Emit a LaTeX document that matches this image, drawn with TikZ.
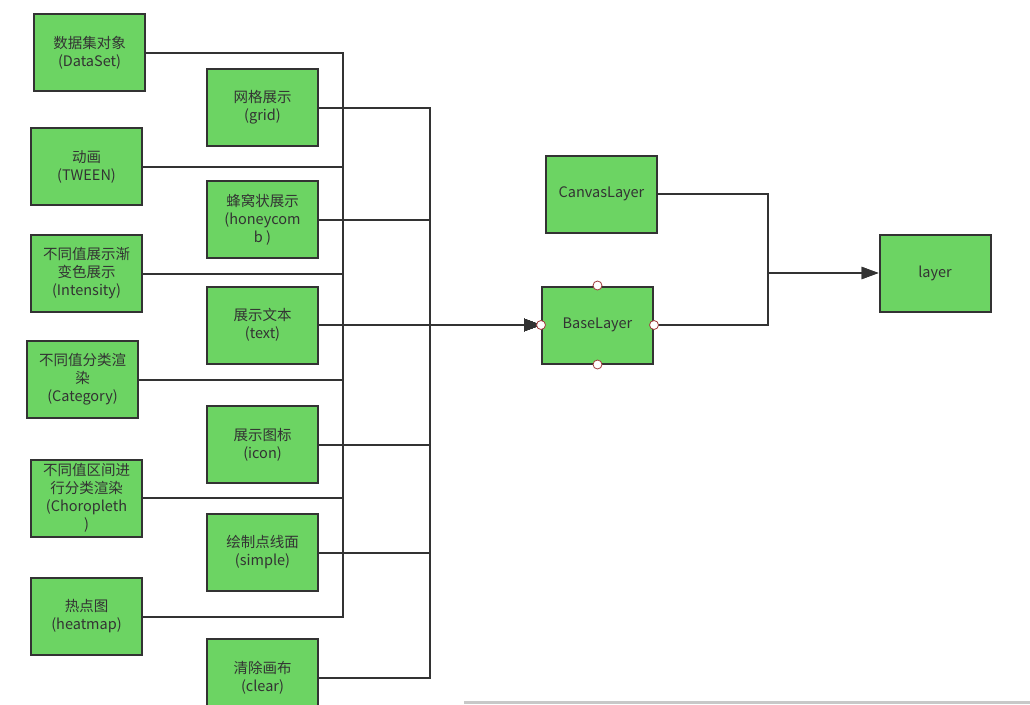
\documentclass[tikz,border=0pt]{standalone}
\usepackage{fontspec}
\setmainfont{Noto Sans CJK SC}
\usetikzlibrary{arrows.meta}
\definecolor{boxgreen}{RGB}{108,212,99}
\definecolor{edgec}{RGB}{51,51,51}
\definecolor{portred}{RGB}{160,60,60}
\definecolor{barg}{RGB}{200,200,200}
\begin{document}
\begin{tikzpicture}[x=1pt,y=-1pt,
  box/.style={draw=edgec, line width=2pt, fill=boxgreen, minimum width=111pt, minimum height=77pt,
    align=center, font=\fontsize{14.5}{18}\selectfont, text=edgec, inner sep=0pt},
  conn/.style={draw=edgec, line width=2pt},
  arr/.style={conn, -{Triangle[length=17pt,width=12pt]}},
  port/.style={circle, draw=portred, fill=white, line width=0.8pt, minimum size=9pt, inner sep=0pt}]
\useasboundingbox (0,0) rectangle (1030,704);
\clip (0,0) rectangle (1030,704);
\fill[white] (0,0) rectangle (1030,704);
% left column
\node[box] (ds) at (89.5,52.5) {数据集对象\\(DataSet)};
\node[box] (tw) at (86.5,166.5) {动画\\(TWEEN)};
\node[box] (in) at (86.5,273.5) {不同值展示渐\\变色展示\\(Intensity)};
\node[box] (ca) at (82.5,379.5) {不同值分类渲\\染\\(Category)};
\node[box] (ch) at (86.5,498) {不同值区间进\\行分类渲染\\(Choropleth\\)};
\node[box] (hm) at (86.5,616.5) {热点图\\(heatmap)};
% middle column
\node[box] (gr) at (262.5,107.5) {网格展示\\(grid)};
\node[box] (hc) at (262.5,219.5) {蜂窝状展示\\(honeycom\\b )};
\node[box] (tx) at (262.5,325) {展示文本\\(text)};
\node[box] (ic) at (262.5,444.5) {展示图标\\(icon)};
\node[box] (si) at (262.5,552.5) {绘制点线面\\(simple)};
\node[box] (cl) at (262.5,677.5) {清除画布\\(clear)};
% right
\node[box] (cv) at (601.5,194) {CanvasLayer};
\node[box] (bl) at (597.5,325) {BaseLayer};
\node[box] (ly) at (935,273) {layer};
% buses
\coordinate (bL) at (343,325);
\coordinate (bR) at (430,325);
\coordinate (bO) at (768,273);
\foreach \n in {ds,tw,in,ca,ch,hm} \draw[arr] (\n.east) -| (bL) -- (bl.west);
\foreach \n in {gr,hc,tx,ic,si,cl} \draw[arr] (\n.east) -| (bR) -- (bl.west);
\draw[arr] (cv.east) -| (bO) -- (ly.west);
\draw[arr] (bl.east) -| (bO) -- (ly.west);
% ports
\foreach \a in {west,east,north,south} \node[port] (p\a) at (bl.\a) {};
% bottom bar
\fill[barg] (464,701) rectangle (1030,704);
\end{tikzpicture}
\end{document}
